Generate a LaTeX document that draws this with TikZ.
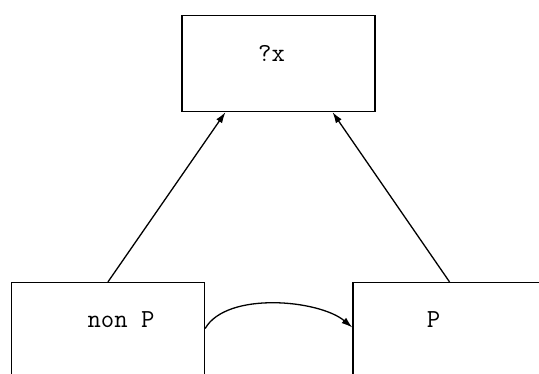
\documentclass[tikz,border=0pt]{standalone}
\usetikzlibrary{arrows.meta}
\tikzstyle{box}=[rectangle,draw,line width=1.3pt,minimum width=193pt,minimum height=96pt,inner sep=0pt]
\tikzstyle{link}=[draw,line width=1.3pt,-{Latex[length=11pt,width=7pt]}]
\tikzstyle{tag}=[font=\ttfamily\fontsize{26}{30}\selectfont,anchor=base,inner sep=0pt]

\begin{document}
\begin{tikzpicture}[x=1pt,y=-1pt]
    \useasboundingbox (0,0) rectangle (539,373);
    \clip (0,0) rectangle (539,373);
    % the three boxes
    \node[box,label={[tag,xshift=-7pt,yshift=-47pt]north:?x}] (goal) at (278.5,63.5) {};
    \node[box,label={[tag,xshift=13pt,yshift=-46pt]north:non P}] (nonP) at (108,330.5) {};
    \node[box,label={[tag,xshift=-16pt,yshift=-46pt]north:P}] (P) at (449.5,330.5) {};

    % connect the boxes
    \path[link] (nonP.north) -- ([xshift=-53pt]goal.south);
    \path[link] (P.north) -- ([xshift=54pt]goal.south);
    \path[link] ([yshift=2pt]nonP.east) to[out=60,in=140,looseness=0.75] ([yshift=3pt]P.west);
\end{tikzpicture}
\end{document}
